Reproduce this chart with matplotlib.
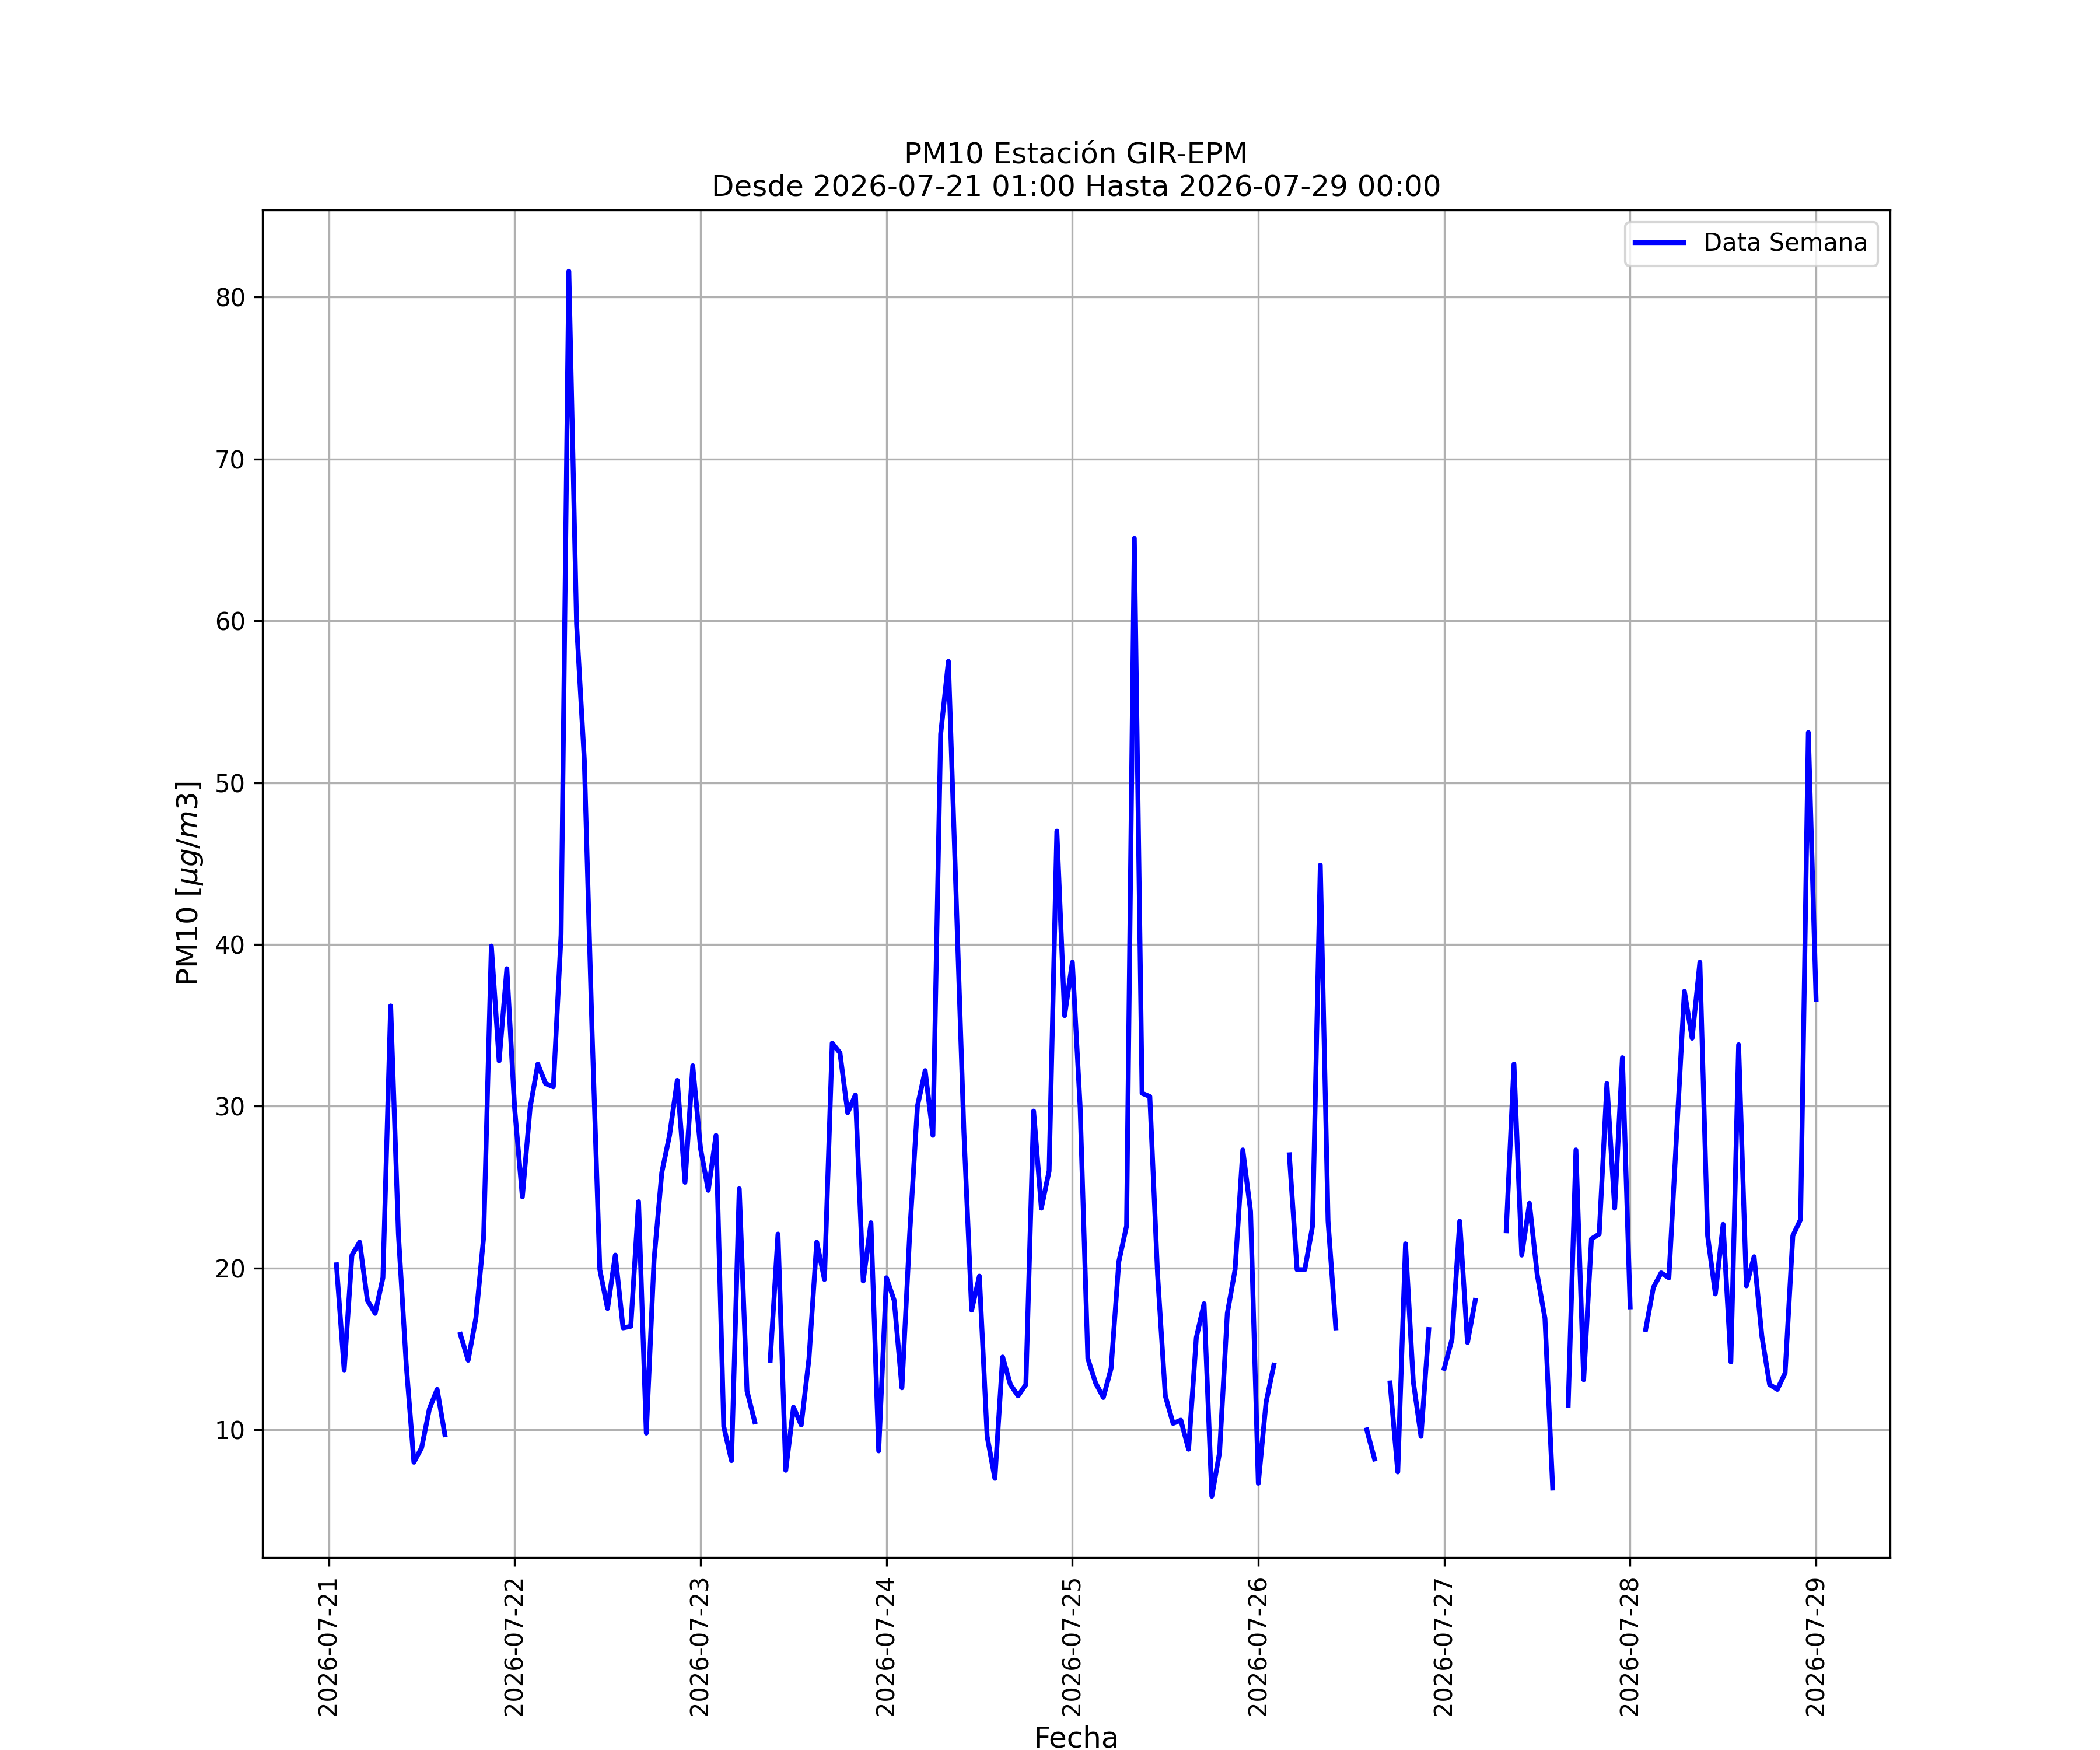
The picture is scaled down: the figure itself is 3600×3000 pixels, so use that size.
import numpy as np
import pandas as pd
import matplotlib
matplotlib.use('Agg')
import matplotlib.pyplot as plt
import matplotlib.dates as mdates

nan = np.nan

# hourly PM10 readings, one list per day (01:00 ... 00:00 of next day)
dia_21 = [20.2, 13.7, 20.8, 21.6, 18.0, 17.2, 19.4, 36.2, 22.1, 14.1, 8.0, 8.9,
          11.3, 12.5, 9.7, nan, 15.9, 14.3, 16.9, 21.9, 39.9, 32.8, 38.5, 29.9]
dia_22 = [24.4, 29.9, 32.6, 31.4, 31.2, 40.6, 81.6, 59.8, 51.4, 34.6, 19.9, 17.5,
          20.8, 16.3, 16.4, 24.1, 9.8, 20.5, 25.9, 28.2, 31.6, 25.3, 32.5, 27.4]
dia_23 = [24.8, 28.2, 10.2, 8.1, 24.9, 12.4, 10.5, nan, 14.3, 22.1, 7.5, 11.4,
          10.3, 14.4, 21.6, 19.3, 33.9, 33.3, 29.6, 30.7, 19.2, 22.8, 8.7, 19.4]
dia_24 = [18.0, 12.6, 22.1, 30.0, 32.2, 28.2, 53.0, 57.5, 42.9, 28.4, 17.4, 19.5,
          9.6, 7.0, 14.5, 12.8, 12.1, 12.8, 29.7, 23.7, 26.0, 47.0, 35.6, 38.9]
dia_25 = [30.0, 14.4, 12.9, 12.0, 13.8, 20.4, 22.6, 65.1, 30.8, 30.6, 19.6, 12.1,
          10.4, 10.6, 8.8, 15.7, 17.8, 5.9, 8.6, 17.2, 19.9, 27.3, 23.5, 6.7]
dia_26 = [11.7, 14.0, nan, 27.0, 19.9, 19.9, 22.6, 44.9, 22.9, 16.3, nan, nan,
          nan, 10.0, 8.2, nan, 12.9, 7.4, 21.5, 13.0, 9.6, 16.2, nan, 13.8]
dia_27 = [15.6, 22.9, 15.4, 18.0, nan, nan, nan, 22.3, 32.6, 20.8, 24.0, 19.6,
          16.9, 6.4, nan, 11.5, 27.3, 13.1, 21.8, 22.1, 31.4, 23.7, 33.0, 17.6]
dia_28 = [nan, 16.2, 18.8, 19.7, 19.4, 28.3, 37.1, 34.2, 38.9, 22.0, 18.4, 22.7,
          14.2, 33.8, 18.9, 20.7, 15.8, 12.8, 12.5, 13.5, 22.0, 23.0, 53.1, 36.6]

pm10 = dia_21 + dia_22 + dia_23 + dia_24 + dia_25 + dia_26 + dia_27 + dia_28
fechas = pd.date_range('2026-07-21 01:00', periods=len(pm10), freq='h')

fig, ax = plt.subplots(figsize=(12, 10), dpi=300)
ax.plot(fechas, pm10, color='blue', linewidth=2, label='Data Semana')
ax.set_title('PM10 Estación GIR-EPM\nDesde 2026-07-21 01:00 Hasta 2026-07-29 00:00', fontsize=12)
ax.set_xlabel('Fecha', fontsize=12)
ax.set_ylabel(r'PM10 [$\mu g/m3$]', fontsize=12)
ax.xaxis.set_major_locator(mdates.DayLocator())
ax.xaxis.set_major_formatter(mdates.DateFormatter('%Y-%m-%d'))
plt.setp(ax.get_xticklabels(), rotation=90)
ax.grid(True)
ax.legend(loc='upper right')
plt.savefig('out.png', dpi=300)
